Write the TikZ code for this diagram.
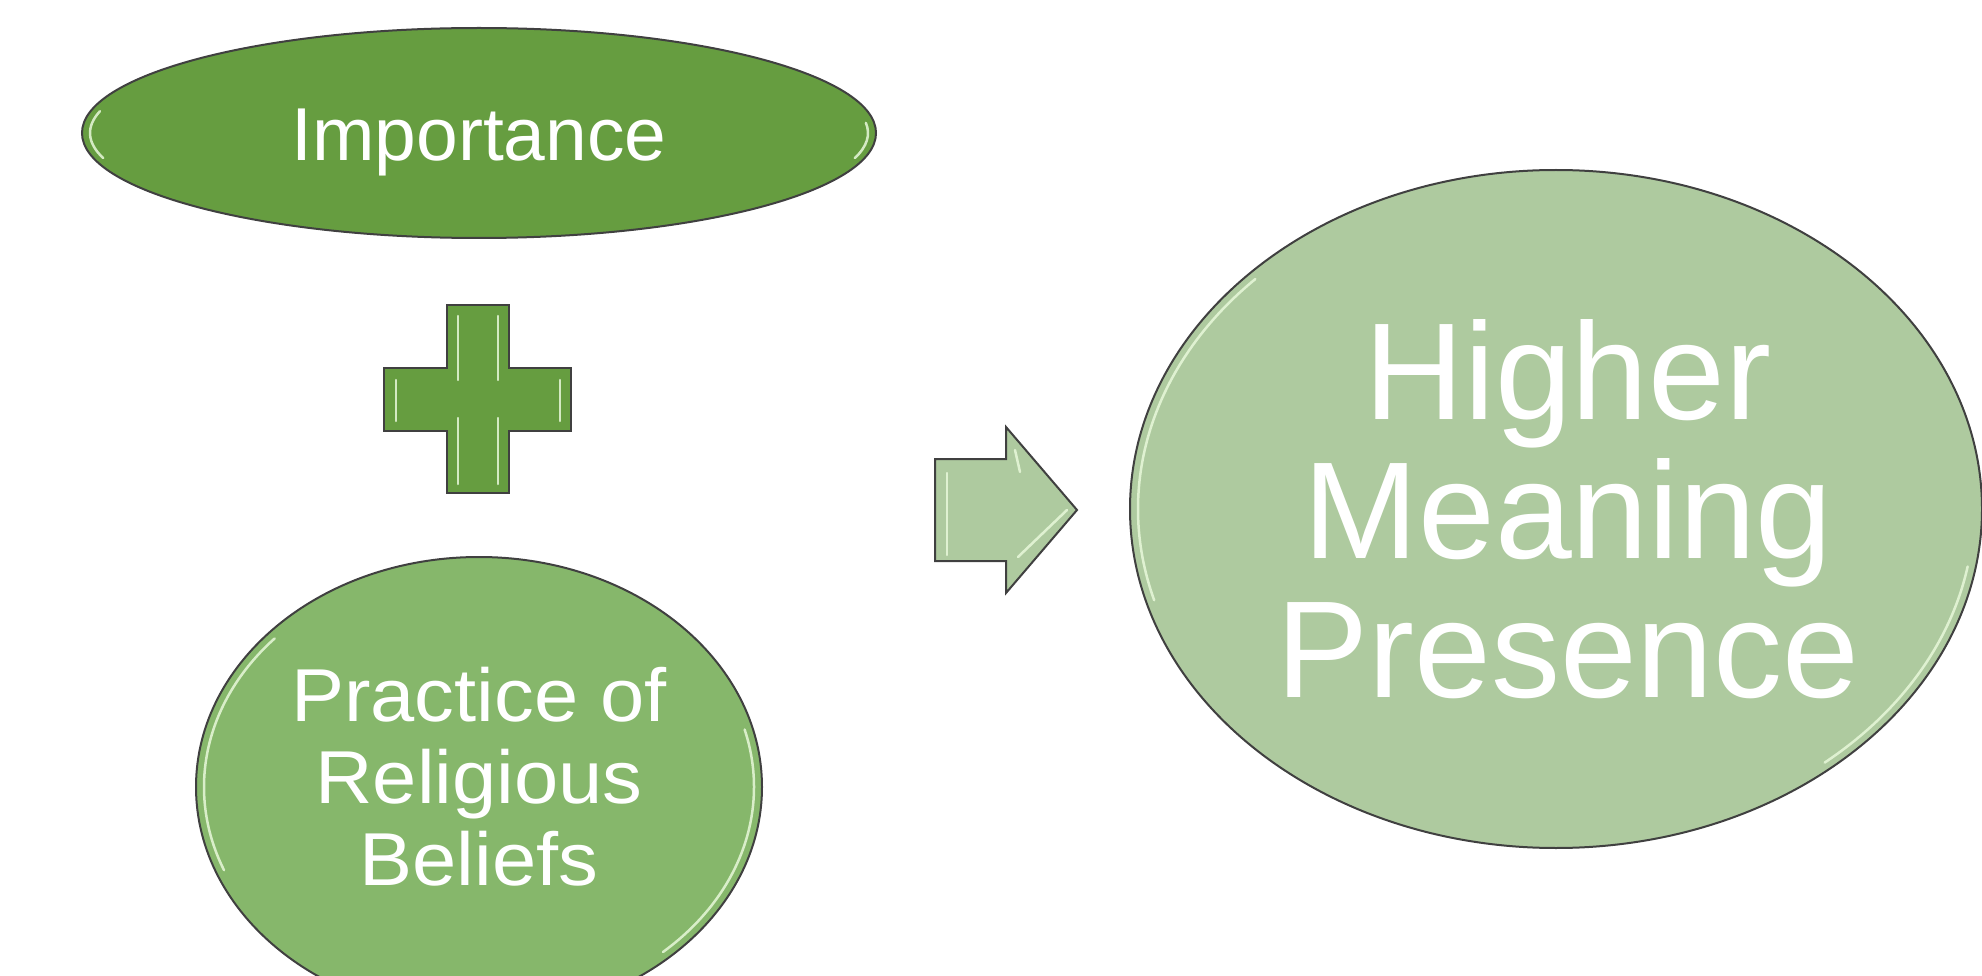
\documentclass[tikz,border=0pt]{standalone}
\usepackage{fontspec}
\setmainfont{Liberation Sans}
\newfontfamily\widefont{Liberation Sans}[FakeStretch=1.06]
\usetikzlibrary{shapes.geometric}
\definecolor{gdark}{HTML}{669D40}
\definecolor{gmid}{HTML}{86B76B}
\definecolor{glight}{HTML}{AECA9F}
\definecolor{gline}{HTML}{404040}
\definecolor{ghi}{HTML}{E8F8DA}
\tikzset{
  oval/.style={ellipse, draw=gline, line width=2pt, inner sep=0pt, text=white, align=center},
  glyph/.style={draw=gline, line width=2pt, line join=miter},
  shine/.style={draw=ghi, line width=2.5pt, line cap=round, opacity=0.85}
}
\begin{document}
\begin{tikzpicture}[x=1pt,y=-1pt]
\clip (0,0) rectangle (1982,976);
\fill[white] (0,0) rectangle (1982,976);
% top ellipse
\node[oval, fill=gdark, minimum width=794pt, minimum height=210pt] (imp) at (479,133) {};
\node[text=white, font=\fontsize{75}{82}\selectfont] (impt) at ([yshift=-9pt]imp.center) {Importance};
% bottom ellipse
\node[oval, fill=gmid, minimum width=566pt, minimum height=460pt] (prac) at (479,787) {};
\node[text=white, align=center, font=\widefont\fontsize{75}{82}\selectfont] (pract)
  at ([yshift=10pt]prac.center) {Practice of\\Religious\\Beliefs};
% big ellipse
\node[oval, fill=glight, minimum width=852pt, minimum height=678pt] (hmp) at (1556,509) {};
\node[text=white, align=center, font=\fontsize{138}{139}\selectfont] (hmpt)
  at ([xshift=12pt]hmp.center) {Higher\\Meaning\\Presence};
% highlights on ellipses
\draw[shine] (imp.center) ++(167:389pt and 97pt) arc[start angle=167, end angle=195, x radius=389pt, y radius=97pt];
\draw[shine] (imp.center) ++(6:389pt and 97pt) arc[start angle=6, end angle=-15, x radius=389pt, y radius=97pt];
\draw[shine] (prac.center) ++(138:275pt and 222pt) arc[start angle=138, end angle=202, x radius=275pt, y radius=222pt];
\draw[shine] (prac.center) ++(15:275pt and 222pt) arc[start angle=15, end angle=-48, x radius=275pt, y radius=222pt];
\draw[shine] (hmp.center) ++(136:418pt and 331pt) arc[start angle=136, end angle=196, x radius=418pt, y radius=331pt];
\draw[shine] (hmp.center) ++(-10:418pt and 331pt) arc[start angle=-10, end angle=-50, x radius=418pt, y radius=331pt];
% plus sign
\coordinate (pc) at (478,399);
\draw[glyph, fill=gdark] (447,305) -- (509,305) -- (509,368) -- (571,368) -- (571,431)
  -- (509,431) -- (509,493) -- (447,493) -- (447,431) -- (384,431) -- (384,368)
  -- (447,368) -- cycle;
\draw[shine] (458,316) -- (458,380);
\draw[shine] (498,316) -- (498,380);
\draw[shine] (458,418) -- (458,484);
\draw[shine] (498,418) -- (498,484);
\draw[shine] (396,380) -- (396,421);
\draw[shine] (560,380) -- (560,421);
% arrow
\coordinate (arr) at (1006,510);
\draw[glyph, fill=glight] (935,459) -- (1006,459) -- (1006,427) -- (1077,510)
  -- (1006,593) -- (1006,561) -- (935,561) -- cycle;
\draw[shine] (947,473) -- (947,555);
\draw[shine] (1015,450) -- (1020,472);
\draw[shine] (1067,510) -- (1018,557);
\end{tikzpicture}
\end{document}
